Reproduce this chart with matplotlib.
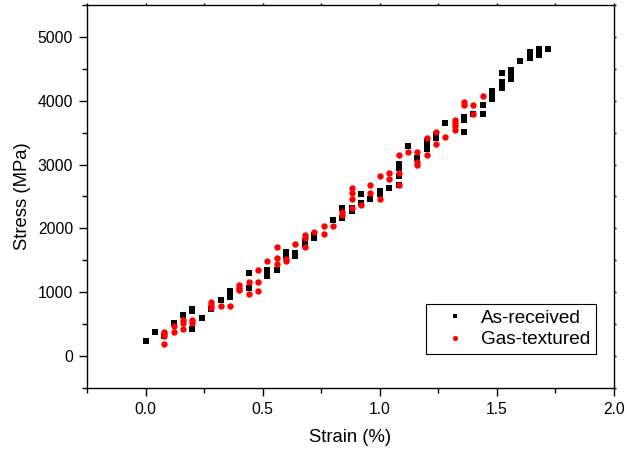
# Wykres naprezenie-odksztalcenie: As-received vs Gas-textured
import matplotlib
matplotlib.use("Agg")
import matplotlib.pyplot as plt
from matplotlib.ticker import MultipleLocator

plt.rcParams["font.family"] = ["Liberation Sans", "DejaVu Sans"]

# Dane
strain_as_received = [
    0.00, 0.04, 0.08, 0.12, 0.16, 0.20, 0.20, 0.20, 0.24, 0.28,
    0.32, 0.36, 0.36, 0.44, 0.44, 0.52, 0.52, 0.56, 0.60, 0.60,
    0.64, 0.64, 0.68, 0.68, 0.72, 0.72, 0.80, 0.84, 0.84, 0.88,
    0.88, 0.92, 0.92, 0.96, 1.00, 1.00, 1.04, 1.08, 1.08, 1.08,
    1.08, 1.12, 1.16, 1.20, 1.20, 1.20, 1.24, 1.24, 1.28, 1.36,
    1.36, 1.36, 1.40, 1.44, 1.44, 1.48, 1.48, 1.48, 1.52, 1.52,
    1.52, 1.56, 1.56, 1.56, 1.60, 1.64, 1.64, 1.68, 1.68, 1.72,
]
stress_as_received = [
    230, 375, 320, 515, 650, 745, 700, 420, 600, 740,
    880, 1020, 925, 1300, 1065, 1345, 1250, 1345, 1625, 1575,
    1620, 1575, 1800, 1760, 1900, 1855, 2125, 2315, 2170, 2315,
    2268, 2545, 2405, 2455, 2590, 2545, 2633, 3005, 2940, 2825,
    2685, 3287, 3100, 3365, 3280, 3245, 3470, 3420, 3650, 3740,
    3700, 3515, 3795, 3930, 3795, 4160, 4065, 4020, 4440, 4300,
    4205, 4485, 4435, 4340, 4625, 4760, 4665, 4805, 4715, 4805,
]

strain_gas_textured = [
    0.08, 0.08, 0.08, 0.08, 0.12, 0.12, 0.16, 0.16, 0.16, 0.20,
    0.20, 0.28, 0.28, 0.28, 0.32, 0.36, 0.40, 0.40, 0.40, 0.44,
    0.44, 0.48, 0.48, 0.48, 0.52, 0.56, 0.56, 0.56, 0.60, 0.60,
    0.64, 0.68, 0.68, 0.68, 0.72, 0.76, 0.76, 0.80, 0.84, 0.84,
    0.88, 0.88, 0.88, 0.88, 0.92, 0.96, 0.96, 1.00, 1.00, 1.04,
    1.04, 1.08, 1.08, 1.08, 1.12, 1.16, 1.16, 1.16, 1.20, 1.20,
    1.24, 1.24, 1.28, 1.32, 1.32, 1.32, 1.32, 1.36, 1.36, 1.40,
    1.40, 1.44,
]
stress_gas_textured = [
    370, 345, 320, 190, 465, 375, 560, 515, 420, 560,
    515, 840, 800, 760, 790, 790, 1115, 1070, 1030, 1160,
    975, 1345, 1160, 1020, 1485, 1715, 1530, 1440, 1525, 1485,
    1755, 1900, 1850, 1710, 1945, 2035, 1920, 2035, 2260, 2215,
    2640, 2550, 2455, 2315, 2360, 2685, 2550, 2825, 2455, 2870,
    2775, 3150, 2870, 2685, 3192, 3192, 3040, 3000, 3417, 3150,
    3516, 3328, 3427, 3704, 3652, 3600, 3547, 3976, 3929, 3929,
    3793, 4070,
]

fig = plt.figure(figsize=(6.27, 4.54), dpi=100)
ax = fig.add_axes([0.1388, 0.1454, 0.8405, 0.8436])

ax.plot(strain_as_received, stress_as_received, "s", color="black",
        markersize=4.0, markeredgewidth=0, label="As-received")
ax.plot(strain_gas_textured, stress_gas_textured, "o", color="red",
        markersize=4.6, markeredgewidth=0, label="Gas-textured")

ax.set_xlim(-0.25, 2.0)
ax.set_ylim(-500, 5500)
ax.xaxis.set_major_locator(MultipleLocator(0.5))
ax.xaxis.set_minor_locator(MultipleLocator(0.25))
ax.yaxis.set_major_locator(MultipleLocator(1000))
ax.yaxis.set_minor_locator(MultipleLocator(500))
ax.xaxis.set_major_formatter(matplotlib.ticker.FormatStrFormatter("%.1f"))

ax.tick_params(which="major", direction="out", length=5.5, width=1,
               labelsize=11.3, pad=4.5)
ax.tick_params(which="minor", direction="out", length=3.5, width=1)
# male kreski na gornej i prawej osi
ax.tick_params(which="both", top=True, right=True)
ax.tick_params(axis="x", which="both", labeltop=False)
ax.tick_params(axis="y", which="both", labelright=False)
for s in ax.spines.values():
    s.set_linewidth(1.0)

ax.set_xlabel("Strain (%)", fontsize=13.3, labelpad=9)
ax.set_ylabel("Stress (MPa)", fontsize=13.3, labelpad=5)

# gorne i prawe kreski krotsze
for t in ax.xaxis.get_major_ticks() + ax.xaxis.get_minor_ticks():
    t.tick2line.set_markersize(1.5)
for t in ax.yaxis.get_major_ticks() + ax.yaxis.get_minor_ticks():
    t.tick2line.set_markersize(1.5)

leg = ax.legend(loc="lower right", bbox_to_anchor=(0.950, 0.2203),
                bbox_transform=fig.transFigure, borderaxespad=0,
                fontsize=13.7, numpoints=1, markerscale=0.8,
                fancybox=False, edgecolor="black", framealpha=1,
                borderpad=0.3, handlelength=2.45, handletextpad=0.15,
                labelspacing=0.2)
leg.get_frame().set_linewidth(0.8)

plt.savefig("out.png", dpi=100)
